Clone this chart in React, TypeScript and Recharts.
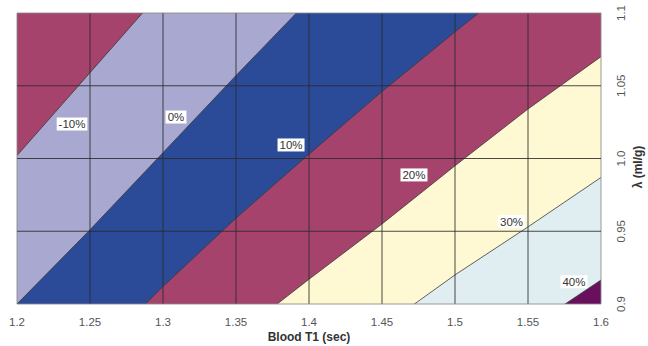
import React from 'react';
import {
  ComposedChart,
  Area,
  XAxis,
  YAxis,
  CartesianGrid,
  ReferenceLine,
  Scatter,
} from 'recharts';

// Blood T1 (sec) sample positions
const T_VALUES = [1.2, 1.25, 1.3, 1.35, 1.4, 1.45, 1.5, 1.55, 1.6];
// lambda (ml/g) of each contour line at the T positions above
const C_M10 = [1.002, 1.059, 1.116, 1.173, 1.23, 1.287, 1.344, 1.401, 1.458];
const C_0 = [0.9, 0.951, 1.004, 1.057, 1.109, 1.16, 1.21, 1.26, 1.31];
const C_10 = [0.812, 0.862, 0.912, 0.959, 1.003, 1.046, 1.087, 1.127, 1.167];
const C_20 = [0.76, 0.8, 0.84, 0.878, 0.917, 0.955, 0.995, 1.034, 1.07];
const C_30 = [0.71, 0.745, 0.78, 0.815, 0.85, 0.884, 0.92, 0.953, 0.987];
const C_40 = [0.65, 0.683, 0.716, 0.75, 0.783, 0.817, 0.85, 0.883, 0.9165];

const X_TICKS = [1.2, 1.25, 1.3, 1.35, 1.4, 1.45, 1.5, 1.55, 1.6];
const X_TICK_LABELS = ['1.2', '1.25', '1.3', '1.35', '1.4', '1.45', '1.5', '1.55', '1.6'];
const Y_TICKS = [0.9, 0.95, 1.0, 1.05, 1.1];
const Y_TICK_LABELS = ['0.9', '0.95', '1.0', '1.05', '1.1'];

// contour labels
const LABEL_TEXT = ['-10%', '0%', '10%', '20%', '30%', '40%'];
const LABEL_T = [1.2377, 1.3089, 1.3877, 1.4719, 1.5387, 1.5815];
const LABEL_L = [1.0237, 1.0285, 1.0093, 0.9887, 0.9567, 0.9153];

const MAGENTA = '#A5436D';
const LAVENDER = '#A8A8D0';
const BLUE = '#2B4A98';
const CREAM = '#FEF9D2';
const LIGHTBLUE = '#E1EEF1';
const PURPLE = '#6A0E5E';
const FONT = '"Liberation Sans", Arial, sans-serif';

const data = T_VALUES.map((t, i) => ({
  T: t,
  m10: C_M10[i],
  p0: C_0[i],
  p10: C_10[i],
  p20: C_20[i],
  p30: C_30[i],
  p40: C_40[i],
}));

const labelData = LABEL_TEXT.map((s, i) => ({ T: LABEL_T[i], L: LABEL_L[i], text: s }));

const charW = (c: string) => {
  if (c === '%') return 9.8;
  if (c === '-') return 3.7;
  return 6.1;
};

const LabelShape = (props: any) => {
  const { cx, cy, payload } = props;
  const text: string = payload.text;
  const tw = text.split('').reduce((a, c) => a + charW(c), 0);
  const w = tw + 5;
  const h = 13;
  return (
    <g>
      <rect x={cx - w / 2} y={cy - h / 2} width={w} height={h} fill="#ffffff" />
      <text
        x={cx}
        y={cy + 4}
        textAnchor="middle"
        fontSize={11.5}
        fontFamily={FONT}
        fill="#333"
      >
        {text}
      </text>
    </g>
  );
};

const XTick = (props: any) => {
  const { x, y, payload } = props;
  const idx = X_TICKS.findIndex((v) => Math.abs(v - payload.value) < 1e-6);
  return (
    <text x={x} y={y + 22} textAnchor="middle" fontSize={11.5} fontFamily={FONT} fill="#555">
      {X_TICK_LABELS[idx]}
    </text>
  );
};

const YTick = (props: any) => {
  const { x, y, payload } = props;
  const idx = Y_TICKS.findIndex((v) => Math.abs(v - payload.value) < 1e-6);
  const bx = x + 24;
  return (
    <text
      x={bx}
      y={y}
      transform={`rotate(-90 ${bx} ${y})`}
      textAnchor="middle"
      fontSize={11.5}
      fontFamily={FONT}
      fill="#555"
    >
      {Y_TICK_LABELS[idx]}
    </text>
  );
};

const XLabel = () => (
  <text
    x={309}
    y={341}
    textAnchor="middle"
    fontSize={12}
    fontWeight="bold"
    fontFamily={FONT}
    fill="#333"
  >
    Blood T1 (sec)
  </text>
);

const YLabel = () => {
  const x = 642;
  const y = 167;
  return (
    <text
      x={x}
      y={y}
      transform={`rotate(-90 ${x} ${y})`}
      textAnchor="middle"
      fontSize={12}
      fontWeight="bold"
      fontFamily={FONT}
      fill="#333"
    >
      λ (ml/g)
    </text>
  );
};

const GRID_DARK = '#2a2a2a';
const GRID_EDGE = '#8a8a8a';
const CONTOUR = '#3a3a3a';

export default function App() {
  return (
    <div style={{ position: 'absolute', left: 0, top: 0, width: 648, height: 346 }}>
      <ComposedChart
        width={648}
        height={346}
        data={data}
        margin={{ top: 13, right: 0, bottom: 0, left: 17 }}
      >
        <CartesianGrid fill={MAGENTA} horizontal={false} vertical={false} stroke="none" />
        <XAxis
          type="number"
          dataKey="T"
          domain={[1.2, 1.6]}
          ticks={X_TICKS}
          allowDataOverflow
          axisLine={false}
          tickLine={false}
          tickSize={0}
          tickMargin={0}
          height={42}
          interval={0}
          tick={<XTick />}
          label={{ content: <XLabel /> }}
        />
        <YAxis
          yAxisId={0}
          orientation="right"
          type="number"
          domain={[0.9, 1.1]}
          ticks={Y_TICKS}
          allowDataOverflow
          axisLine={false}
          tickLine={false}
          tickSize={0}
          tickMargin={0}
          width={47}
          interval={0}
          tick={<YTick />}
          label={{ content: <YLabel /> }}
        />
        <Area type="linear" dataKey="m10" baseValue={0.9} fill={LAVENDER} fillOpacity={1} stroke={CONTOUR} strokeWidth={0.8} isAnimationActive={false} dot={false} activeDot={false} />
        <Area type="linear" dataKey="p0" baseValue={0.9} fill={BLUE} fillOpacity={1} stroke={CONTOUR} strokeWidth={0.8} isAnimationActive={false} dot={false} activeDot={false} />
        <Area type="linear" dataKey="p10" baseValue={0.9} fill={MAGENTA} fillOpacity={1} stroke={CONTOUR} strokeWidth={0.8} isAnimationActive={false} dot={false} activeDot={false} />
        <Area type="linear" dataKey="p20" baseValue={0.9} fill={CREAM} fillOpacity={1} stroke={CONTOUR} strokeWidth={0.8} isAnimationActive={false} dot={false} activeDot={false} />
        <Area type="linear" dataKey="p30" baseValue={0.9} fill={LIGHTBLUE} fillOpacity={1} stroke={CONTOUR} strokeWidth={0.8} isAnimationActive={false} dot={false} activeDot={false} />
        <Area type="linear" dataKey="p40" baseValue={0.9} fill={PURPLE} fillOpacity={1} stroke={CONTOUR} strokeWidth={0.8} isAnimationActive={false} dot={false} activeDot={false} />
        {X_TICKS.map((t, i) => (
          <ReferenceLine
            key={'gx' + i}
            x={t}
            stroke={i === 0 || i === X_TICKS.length - 1 ? GRID_EDGE : GRID_DARK}
            strokeWidth={1}
            strokeOpacity={0.85}
          />
        ))}
        {Y_TICKS.map((v, i) => (
          <ReferenceLine
            key={'gy' + i}
            y={v}
            stroke={i === 0 || i === Y_TICKS.length - 1 ? GRID_EDGE : GRID_DARK}
            strokeWidth={1}
            strokeOpacity={0.85}
          />
        ))}
        <Scatter data={labelData} dataKey="L" shape={<LabelShape />} isAnimationActive={false} />
      </ComposedChart>
    </div>
  );
}
